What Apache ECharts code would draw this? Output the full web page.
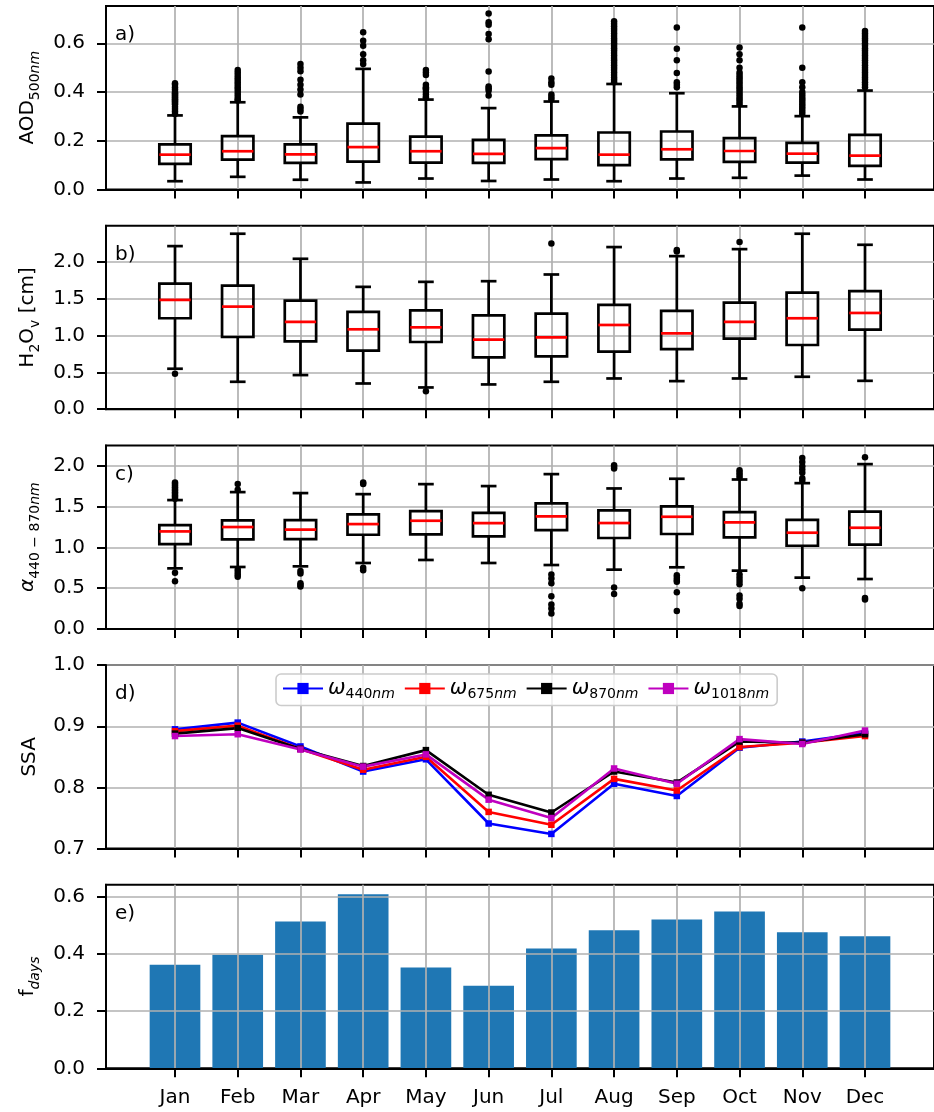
<!DOCTYPE html>
<html>
<head>
<meta charset="utf-8">
<script src="https://cdn.jsdelivr.net/npm/echarts@6/dist/echarts.min.js"></script>
<style>
  html, body { margin: 0; padding: 0; background: #ffffff; }
  #chart { width: 934px; height: 1112px; }
</style>
</head>
<body>
<div id="chart"></div>
<script>
// Month labels along the shared x axis
const months = ['Jan', 'Feb', 'Mar', 'Apr', 'May', 'Jun', 'Jul', 'Aug', 'Sep', 'Oct', 'Nov', 'Dec'];

// Box statistics per month: [lower whisker, Q1, median, Q3, upper whisker]
const aodBoxes = [
  [0.034, 0.105, 0.143, 0.185, 0.304],
  [0.052, 0.123, 0.157, 0.219, 0.358],
  [0.040, 0.109, 0.144, 0.185, 0.296],
  [0.029, 0.114, 0.174, 0.270, 0.495],
  [0.045, 0.110, 0.157, 0.217, 0.369],
  [0.035, 0.109, 0.146, 0.204, 0.334],
  [0.041, 0.125, 0.170, 0.222, 0.361],
  [0.034, 0.100, 0.143, 0.234, 0.433],
  [0.045, 0.124, 0.165, 0.238, 0.395],
  [0.048, 0.113, 0.158, 0.211, 0.341],
  [0.057, 0.110, 0.147, 0.191, 0.301],
  [0.041, 0.097, 0.139, 0.224, 0.406]
];
const aodOutliers = [
  [0.31, 0.32, 0.33, 0.34, 0.35, 0.355, 0.36, 0.365, 0.37, 0.375, 0.38, 0.385, 0.39, 0.395, 0.40, 0.41, 0.42, 0.43, 0.436],
  [0.365, 0.37, 0.38, 0.39, 0.40, 0.41, 0.42, 0.43, 0.44, 0.45, 0.46, 0.47, 0.48, 0.49],
  [0.32, 0.33, 0.34, 0.39, 0.41, 0.43, 0.45, 0.485, 0.50, 0.515],
  [0.515, 0.53, 0.555, 0.59, 0.61, 0.645],
  [0.375, 0.38, 0.39, 0.40, 0.41, 0.415, 0.42, 0.43, 0.47, 0.48, 0.49],
  [0.386, 0.406, 0.415, 0.423, 0.484, 0.617, 0.638, 0.676, 0.686, 0.722],
  [0.37, 0.38, 0.39, 0.43, 0.44, 0.455],
  [0.44, 0.45, 0.46, 0.47, 0.48, 0.49, 0.50, 0.51, 0.52, 0.53, 0.54, 0.55, 0.56, 0.57, 0.58, 0.59, 0.60, 0.61, 0.62, 0.63, 0.64, 0.65, 0.66, 0.67, 0.68, 0.69],
  [0.42, 0.43, 0.44, 0.478, 0.53, 0.578, 0.665],
  [0.35, 0.36, 0.37, 0.38, 0.39, 0.40, 0.41, 0.42, 0.43, 0.44, 0.45, 0.46, 0.47, 0.48, 0.50, 0.53, 0.555, 0.583],
  [0.31, 0.32, 0.33, 0.34, 0.35, 0.36, 0.37, 0.38, 0.39, 0.40, 0.42, 0.44, 0.50, 0.665],
  [0.42, 0.43, 0.44, 0.45, 0.46, 0.47, 0.48, 0.49, 0.50, 0.51, 0.52, 0.53, 0.54, 0.55, 0.56, 0.57, 0.58, 0.59, 0.60, 0.61, 0.62, 0.63, 0.64, 0.65]
];

const h2oBoxes = [
  [0.549, 1.234, 1.483, 1.705, 2.213],
  [0.372, 0.980, 1.392, 1.678, 2.381],
  [0.463, 0.921, 1.184, 1.474, 2.041],
  [0.349, 0.794, 1.084, 1.320, 1.660],
  [0.295, 0.912, 1.111, 1.342, 1.728],
  [0.336, 0.703, 0.943, 1.274, 1.737],
  [0.372, 0.717, 0.975, 1.297, 1.828],
  [0.417, 0.780, 1.143, 1.415, 2.200],
  [0.381, 0.816, 1.029, 1.333, 2.077],
  [0.417, 0.957, 1.184, 1.447, 2.172],
  [0.440, 0.871, 1.234, 1.583, 2.381],
  [0.385, 1.079, 1.306, 1.601, 2.231]
];
const h2oOutliers = [
  [0.48], [], [], [], [0.245], [], [2.25], [], [2.14, 2.16], [2.27], [], []
];

const alphaBoxes = [
  [0.744, 1.043, 1.198, 1.276, 1.583],
  [0.761, 1.100, 1.252, 1.333, 1.681],
  [0.769, 1.104, 1.219, 1.337, 1.669],
  [0.810, 1.157, 1.288, 1.407, 1.656],
  [0.847, 1.162, 1.329, 1.448, 1.779],
  [0.810, 1.137, 1.301, 1.427, 1.755],
  [0.785, 1.215, 1.382, 1.542, 1.902],
  [0.728, 1.117, 1.301, 1.456, 1.726],
  [0.757, 1.166, 1.378, 1.505, 1.845],
  [0.716, 1.125, 1.309, 1.436, 1.836],
  [0.630, 1.022, 1.182, 1.341, 1.791],
  [0.613, 1.035, 1.243, 1.440, 2.025]
];
const alphaOutliers = [
  [1.60, 1.62, 1.64, 1.66, 1.68, 1.70, 1.72, 1.74, 1.76, 1.78, 1.80, 0.69, 0.585],
  [1.71, 1.78, 0.73, 0.70, 0.67, 0.64],
  [0.71, 0.68, 0.56, 0.54, 0.52],
  [1.78, 1.80, 0.75, 0.72],
  [],
  [],
  [0.67, 0.62, 0.56, 0.40, 0.30, 0.25, 0.19],
  [1.97, 1.99, 2.01, 0.51, 0.43],
  [0.66, 0.63, 0.60, 0.58, 0.45, 0.22],
  [1.86, 1.89, 1.92, 1.95, 0.67, 0.63, 0.59, 0.55, 0.41, 0.37, 0.31, 0.28],
  [1.82, 1.85, 1.92, 1.96, 2.00, 2.05, 2.10, 0.50],
  [2.11, 0.38, 0.36]
];

// Single scattering albedo per wavelength
const ssa440 = [0.895, 0.906, 0.867, 0.826, 0.846, 0.741, 0.724, 0.806, 0.786, 0.865, 0.875, 0.889];
const ssa675 = [0.892, 0.901, 0.863, 0.829, 0.850, 0.760, 0.739, 0.814, 0.795, 0.866, 0.873, 0.884];
const ssa870 = [0.888, 0.897, 0.863, 0.835, 0.861, 0.788, 0.759, 0.826, 0.808, 0.875, 0.873, 0.887];
const ssa1018 = [0.884, 0.887, 0.862, 0.834, 0.854, 0.780, 0.750, 0.831, 0.806, 0.879, 0.871, 0.893];

// Fraction of days with data
const fDays = [0.362, 0.397, 0.514, 0.609, 0.353, 0.289, 0.419, 0.483, 0.521, 0.549, 0.476, 0.462];

// Y tick values per panel
const aodTicks = [0, 0.2, 0.4, 0.6];
const h2oTicks = [0, 0.5, 1.0, 1.5, 2.0];
const alphaTicks = [0, 0.5, 1.0, 1.5, 2.0];
const ssaTicks = [0.7, 0.8, 0.9, 1.0];
const fTicks = [0, 0.2, 0.4, 0.6];

const FONT = 'DejaVu Sans';
const GRID_COLOR = '#b0b0b0';
const monthIdx = months.map((m, i) => i);

const chart = echarts.init(document.getElementById('chart'), null, { renderer: 'canvas' });

const PANEL_TOP = 6, PANEL_PITCH = 219.7, PANEL_H = 183.5;
const tops = [0, 1, 2, 3, 4].map(i => PANEL_TOP + PANEL_PITCH * i);

const grids = tops.map(t => ({
  left: 106, top: t, width: 836, height: PANEL_H,
  show: true, borderColor: '#000', borderWidth: 2, backgroundColor: 'transparent'
}));

function xAxisFor(i, withLabels) {
  return {
    type: 'value', gridIndex: i, min: -1.1, max: 12.1, z: i === 4 ? 5 : 0,
    axisLine: { show: true, onZero: false, lineStyle: { color: '#000', width: 2 } },
    axisTick: { show: true, length: 9, customValues: monthIdx, lineStyle: { color: '#000', width: 2 } },
    axisLabel: {
      show: withLabels, customValues: monthIdx, margin: 19,
      formatter: v => months[Math.round(v)] || '',
      fontFamily: FONT, fontSize: 20, color: '#000'
    },
    splitLine: { show: true, lineStyle: { color: GRID_COLOR, width: 1.7 } }
  };
}

const richName = {
  m: { fontFamily: FONT, fontSize: 20, color: '#000', lineHeight: 28 },
  mi: { fontFamily: FONT, fontSize: 20, fontStyle: 'italic', color: '#000', lineHeight: 28 },
  s: { fontFamily: FONT, fontSize: 14, color: '#000', lineHeight: 14, verticalAlign: 'bottom' },
  si: { fontFamily: FONT, fontSize: 14, fontStyle: 'italic', color: '#000', lineHeight: 14, verticalAlign: 'bottom' }
};

function yAxisFor(i, min, max, ticks, name, gap) {
  return {
    type: 'value', gridIndex: i, min: min, max: max, z: i === 4 ? 5 : 0,
    name: name, nameLocation: 'middle', nameRotate: 90, nameGap: gap,
    nameTextStyle: { fontFamily: FONT, fontSize: 20, color: '#000', rich: richName },
    axisLine: { show: true, onZero: false, lineStyle: { color: '#000', width: 2 } },
    axisTick: { show: true, length: 9, customValues: ticks, lineStyle: { color: '#000', width: 2 } },
    axisLabel: {
      customValues: ticks, margin: 21, formatter: v => v.toFixed(1),
      fontFamily: FONT, fontSize: 20, color: '#000'
    },
    splitLine: { show: true, lineStyle: { color: GRID_COLOR, width: 1.7 } }
  };
}

// Box-and-whisker glyph drawn through the axis scales
const BOX_W = 0.5, CAP_W = 0.25, LW = 2.7;
function renderBox(params, api) {
  const x = api.value(0);
  const lo = api.coord([x, api.value(1)]);
  const q1 = api.coord([x, api.value(2)]);
  const md = api.coord([x, api.value(3)]);
  const q3 = api.coord([x, api.value(4)]);
  const hi = api.coord([x, api.value(5)]);
  const bw = api.size([BOX_W, 0])[0];
  const cw = api.size([CAP_W, 0])[0];
  const cx = lo[0];
  const ls = { stroke: '#000', lineWidth: LW, fill: null };
  return {
    type: 'group',
    children: [
      { type: 'line', shape: { x1: cx, y1: lo[1], x2: cx, y2: q1[1] }, style: ls },
      { type: 'line', shape: { x1: cx, y1: q3[1], x2: cx, y2: hi[1] }, style: ls },
      { type: 'line', shape: { x1: cx - cw / 2, y1: lo[1], x2: cx + cw / 2, y2: lo[1] }, style: ls },
      { type: 'line', shape: { x1: cx - cw / 2, y1: hi[1], x2: cx + cw / 2, y2: hi[1] }, style: ls },
      { type: 'rect', shape: { x: cx - bw / 2, y: q3[1], width: bw, height: q1[1] - q3[1] },
        style: { stroke: '#000', lineWidth: LW, fill: 'transparent' } },
      { type: 'line', shape: { x1: cx - bw / 2, y1: md[1], x2: cx + bw / 2, y2: md[1] },
        style: { stroke: '#ff0000', lineWidth: LW } }
    ]
  };
}

function boxSeries(i, boxes) {
  return {
    type: 'custom', xAxisIndex: i, yAxisIndex: i, z: 3,
    renderItem: renderBox,
    data: boxes.map((b, k) => [k].concat(b)),
    silent: true, animation: false
  };
}
function outlierSeries(i, outliers) {
  const pts = [];
  outliers.forEach((list, k) => list.forEach(v => pts.push([k, v])));
  return {
    type: 'scatter', xAxisIndex: i, yAxisIndex: i, z: 4,
    symbol: 'circle', symbolSize: 6.5,
    itemStyle: { color: '#000', opacity: 1 },
    data: pts, silent: true, animation: false
  };
}
function ssaSeries(name, color, values) {
  return {
    name: name, type: 'line', xAxisIndex: 3, yAxisIndex: 3,
    symbol: 'rect', symbolSize: 6.5, showSymbol: true,
    lineStyle: { color: color, width: 2.6 },
    itemStyle: { color: color },
    data: values.map((v, k) => [k, v]),
    animation: false
  };
}

const legendRich = {
  w: { fontFamily: FONT, fontSize: 21, fontStyle: 'italic', color: '#000', lineHeight: 26 },
  d: { fontFamily: FONT, fontSize: 14, color: '#000', lineHeight: 14, verticalAlign: 'bottom' },
  n: { fontFamily: FONT, fontSize: 14, fontStyle: 'italic', color: '#000', lineHeight: 14, verticalAlign: 'bottom' }
};

const panelLetters = ['a)', 'b)', 'c)', 'd)', 'e)'];

const option = {
  backgroundColor: '#ffffff',
  animation: false,
  grid: grids,
  xAxis: [0, 1, 2, 3, 4].map(i => xAxisFor(i, i === 4)),
  yAxis: [
    yAxisFor(0, 0, 0.753, aodTicks, '{m|AOD}{s|500}{si|nm}', 62),
    yAxisFor(1, 0, 2.49, h2oTicks, '{m|H}{s|2}{m|O}{s|v}{m| [cm]}', 62),
    yAxisFor(2, 0, 2.255, alphaTicks, '{mi|α}{s|440 − 870}{si|nm}', 62),
    yAxisFor(3, 0.7, 1.0, ssaTicks, '{m|SSA}', 62),
    yAxisFor(4, 0, 0.642, fTicks, '{m|f}{si|days}', 62)
  ],
  legend: {
    show: true,
    left: 276, top: 674,
    orient: 'horizontal',
    itemWidth: 40, itemHeight: 14, itemGap: 9,
    padding: [4, 8, 4, 6],
    backgroundColor: 'rgba(255,255,255,0.8)',
    borderColor: '#cccccc', borderWidth: 1.6, borderRadius: 5,
    data: ['w440', 'w675', 'w870', 'w1018'],
    formatter: name => '{w|ω}{d|' + name.slice(1) + '}{n|nm}',
    textStyle: { fontFamily: FONT, fontSize: 20, color: '#000', rich: legendRich }
  },
  graphic: panelLetters.map((t, i) => ({
    type: 'text', left: 115, top: tops[i] + 19, z: 10, silent: true,
    style: { text: t, font: '20px "DejaVu Sans"', fill: '#000' }
  })),
  series: [
    boxSeries(0, aodBoxes), outlierSeries(0, aodOutliers),
    boxSeries(1, h2oBoxes), outlierSeries(1, h2oOutliers),
    boxSeries(2, alphaBoxes), outlierSeries(2, alphaOutliers),
    ssaSeries('w440', '#0000ff', ssa440),
    ssaSeries('w675', '#ff0000', ssa675),
    ssaSeries('w870', '#000000', ssa870),
    ssaSeries('w1018', '#bf00bf', ssa1018),
    {
      type: 'bar', xAxisIndex: 4, yAxisIndex: 4, z: 2,
      barWidth: 0.8 * 836 / 13.2,
      itemStyle: { color: '#1f77b4' },
      data: fDays.map((v, k) => [k, v]),
      animation: false
    }
  ]
};

chart.setOption(option);
</script>
</body>
</html>
